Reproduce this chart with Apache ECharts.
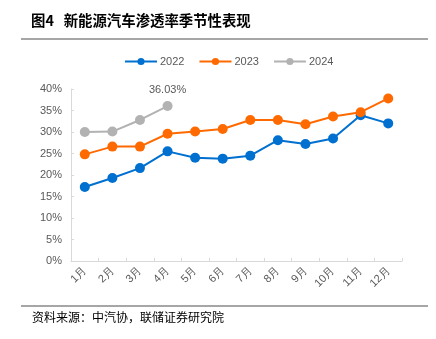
<!DOCTYPE html>
<html>
<head>
<meta charset="utf-8">
<script src="https://cdn.jsdelivr.net/npm/echarts@6/dist/echarts.min.js"></script>
<style>
  html, body { margin: 0; padding: 0; background: #fff; }
  #chart { width: 436px; height: 339px; }
</style>
</head>
<body>
<div id="chart"></div>
<script>
// Monthly NEV penetration rate (%), by year
const months = ['1月', '2月', '3月', '4月', '5月', '6月', '7月', '8月', '9月', '10月', '11月', '12月'];
const rate2022 = [17.2, 19.3, 21.6, 25.5, 24.0, 23.8, 24.5, 28.1, 27.2, 28.5, 33.9, 32.0];
const rate2023 = [24.8, 26.6, 26.6, 29.6, 30.1, 30.7, 32.8, 32.8, 31.8, 33.6, 34.6, 37.8];
const rate2024 = [30.0, 30.1, 32.8, 36.03];
const seriesNames = ['2022', '2023', '2024'];
const seriesColors = ['#0070d0', '#ff6a00', '#b2b2b2'];

const chart = echarts.init(document.getElementById('chart'), null, { renderer: 'canvas' });

const cjk = '"Noto Sans CJK SC", sans-serif';
const latin = '"Liberation Sans", Arial, sans-serif';

function lineSeries(name, data, color) {
  return {
    name: name,
    type: 'line',
    data: data,
    symbol: 'circle',
    symbolSize: 10,
    lineStyle: { width: 2, color: color },
    itemStyle: { color: color },
    emphasis: { disabled: true },
    z: 3
  };
}

const lastIdx = rate2024.length - 1;

chart.setOption({
  animation: false,
  color: seriesColors,
  grid: { left: 71, right: 34, top: 89, bottom: 78 },
  legend: {
    top: 51,
    left: 119,
    itemWidth: 32,
    itemHeight: 9,
    itemGap: 14,
    textStyle: { color: '#595959', fontSize: 11, fontFamily: latin, padding: [0, 0, 0, -2] },
    data: seriesNames
  },
  graphic: [
    {
      type: 'text', left: 31, top: 13,
      style: { text: '图4   新能源汽车渗透率季节性表现', font: 'bold 14.4px ' + cjk, fill: '#000' }
    },
    { type: 'rect', shape: { x: 21, y: 38, width: 407, height: 2 }, style: { fill: '#a6a6a6' } },
    { type: 'rect', shape: { x: 21, y: 305, width: 407, height: 2 }, style: { fill: '#a6a6a6' } },
    {
      type: 'text', left: 32, top: 311,
      style: { text: '资料来源：中汽协，联储证券研究院', font: '12px ' + cjk, fill: '#000' }
    }
  ],
  xAxis: {
    type: 'category',
    data: months,
    boundaryGap: true,
    axisLine: { lineStyle: { color: '#d9d9d9', width: 1 } },
    axisTick: { show: true, inside: true, length: 3, lineStyle: { color: '#d9d9d9' } },
    axisLabel: { rotate: 45, color: '#595959', fontSize: 11, fontFamily: latin, margin: 8, interval: 0 },
    splitLine: { show: false }
  },
  yAxis: {
    type: 'value',
    min: 0, max: 40, interval: 5,
    axisLine: { show: true, lineStyle: { color: '#d9d9d9', width: 1 } },
    axisTick: { show: true, inside: true, length: 3, lineStyle: { color: '#d9d9d9' } },
    axisLabel: { color: '#595959', fontSize: 11, fontFamily: latin, formatter: '{value}%', margin: 9 },
    splitLine: { show: false }
  },
  series: [
    lineSeries(seriesNames[0], rate2022, seriesColors[0]),
    lineSeries(seriesNames[1], rate2023, seriesColors[1]),
    lineSeries(seriesNames[2], rate2024.map(function (v, i) {
      if (i === lastIdx) {
        return {
          value: v,
          label: {
            show: true, position: 'top', distance: 6,
            formatter: v.toFixed(2) + '%',
            color: '#595959', fontSize: 11, fontFamily: latin
          }
        };
      }
      return v;
    }), seriesColors[2])
  ]
});
</script>
</body>
</html>
